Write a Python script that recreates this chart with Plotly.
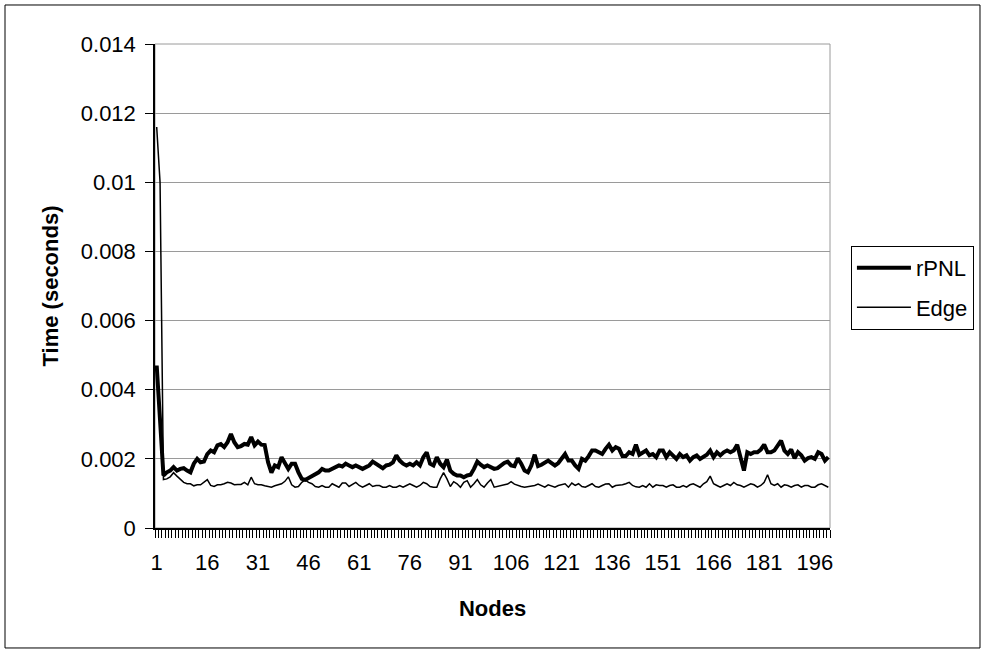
import plotly.graph_objects as go

nodes = list(range(1, 201))

rpnl = [
    0.0047, 0.0033, 0.00152, 0.00161, 0.00166, 0.00176, 0.00166, 0.00171, 0.00173, 0.00166,
    0.00161, 0.00186, 0.00200, 0.00190, 0.00192, 0.00214, 0.00224, 0.00219, 0.00239, 0.00243,
    0.00234, 0.00248, 0.00272, 0.00248, 0.00234, 0.00237, 0.00243, 0.00241, 0.00263, 0.00239,
    0.00250, 0.00241, 0.00240, 0.00190, 0.00160, 0.00181, 0.00176, 0.00205, 0.00190, 0.00171,
    0.00186, 0.00186, 0.00161, 0.00142, 0.00139, 0.00144, 0.00150, 0.00155, 0.00161, 0.00171,
    0.00166, 0.00166, 0.00171, 0.00173, 0.00181, 0.00178, 0.00186, 0.00181, 0.00176, 0.00181,
    0.00176, 0.00171, 0.00176, 0.00181, 0.00192, 0.00186, 0.00181, 0.00173, 0.00181, 0.00183,
    0.00190, 0.00210, 0.00195, 0.00186, 0.00181, 0.00186, 0.00181, 0.00190, 0.00181, 0.00205,
    0.00219, 0.00186, 0.00181, 0.00205, 0.00186, 0.00176, 0.00198, 0.00166, 0.00157, 0.00152,
    0.00152, 0.00147, 0.00152, 0.00154, 0.00171, 0.00192, 0.00183, 0.00176, 0.00181, 0.00176,
    0.00171, 0.00173, 0.00181, 0.00188, 0.00192, 0.00181, 0.00179, 0.00202, 0.00186, 0.00166,
    0.00161, 0.00181, 0.00212, 0.00179, 0.00183, 0.00190, 0.00195, 0.00188, 0.00181, 0.00188,
    0.00200, 0.00214, 0.00195, 0.00195, 0.00181, 0.00171, 0.00200, 0.00195, 0.00208, 0.00224,
    0.00224, 0.00219, 0.00214, 0.00229, 0.00241, 0.00224, 0.00234, 0.00229, 0.00208, 0.00208,
    0.00219, 0.00214, 0.00241, 0.00212, 0.00219, 0.00224, 0.00210, 0.00214, 0.00205, 0.00224,
    0.00224, 0.00205, 0.00219, 0.00210, 0.00200, 0.00214, 0.00205, 0.00210, 0.00195, 0.00205,
    0.00210, 0.00200, 0.00205, 0.00212, 0.00224, 0.00205, 0.00219, 0.00210, 0.00219, 0.00224,
    0.00219, 0.00224, 0.00241, 0.00205, 0.00166, 0.00219, 0.00214, 0.00219, 0.00219, 0.00227,
    0.00241, 0.00219, 0.00219, 0.00224, 0.00239, 0.00253, 0.00224, 0.00214, 0.00227, 0.00202,
    0.00219, 0.00210, 0.00195, 0.00202, 0.00205, 0.00200, 0.00219, 0.00214, 0.00195, 0.00205,
]

edge = [
    0.0116, 0.0100, 0.00140, 0.00142, 0.00148, 0.00160, 0.00150, 0.00140, 0.00132, 0.00128,
    0.00128, 0.00122, 0.00125, 0.00125, 0.00132, 0.00140, 0.00123, 0.00120, 0.00125, 0.00125,
    0.00128, 0.00132, 0.00130, 0.00125, 0.00126, 0.00126, 0.00132, 0.00125, 0.00147, 0.00128,
    0.00125, 0.00125, 0.00122, 0.00120, 0.00118, 0.00122, 0.00125, 0.00128, 0.00135, 0.00148,
    0.00125, 0.00118, 0.00120, 0.00132, 0.00139, 0.00132, 0.00128, 0.00120, 0.00118, 0.00123,
    0.00118, 0.00118, 0.00128, 0.00123, 0.00118, 0.00130, 0.00130, 0.00120, 0.00125, 0.00132,
    0.00123, 0.00118, 0.00123, 0.00128, 0.00120, 0.00123, 0.00123, 0.00118, 0.00118, 0.00123,
    0.00118, 0.00118, 0.00123, 0.00118, 0.00123, 0.00128, 0.00123, 0.00118, 0.00123, 0.00132,
    0.00128, 0.00120, 0.00118, 0.00118, 0.00142, 0.00160, 0.00142, 0.00120, 0.00134, 0.00128,
    0.00118, 0.00132, 0.00137, 0.00118, 0.00128, 0.00140, 0.00125, 0.00118, 0.00130, 0.00140,
    0.00118, 0.00121, 0.00123, 0.00125, 0.00127, 0.00134, 0.00127, 0.00123, 0.00120, 0.00118,
    0.00119, 0.00120, 0.00123, 0.00127, 0.00123, 0.00118, 0.00125, 0.00121, 0.00118, 0.00123,
    0.00125, 0.00128, 0.00118, 0.00130, 0.00123, 0.00128, 0.00120, 0.00118, 0.00123, 0.00128,
    0.00120, 0.00118, 0.00123, 0.00127, 0.00128, 0.00118, 0.00123, 0.00123, 0.00125, 0.00128,
    0.00132, 0.00123, 0.00119, 0.00118, 0.00123, 0.00118, 0.00128, 0.00118, 0.00125, 0.00123,
    0.00123, 0.00118, 0.00123, 0.00125, 0.00118, 0.00118, 0.00123, 0.00118, 0.00125, 0.00128,
    0.00123, 0.00118, 0.00128, 0.00134, 0.00150, 0.00128, 0.00123, 0.00118, 0.00123, 0.00128,
    0.00123, 0.00132, 0.00125, 0.00123, 0.00118, 0.00123, 0.00128, 0.00125, 0.00118, 0.00123,
    0.00132, 0.00154, 0.00128, 0.00123, 0.00128, 0.00118, 0.00125, 0.00123, 0.00118, 0.00123,
    0.00125, 0.00118, 0.00123, 0.00123, 0.00118, 0.00118, 0.00125, 0.00128, 0.00123, 0.00118,
]

x_tick_vals = list(range(1, 201, 15))
x_tick_text = [str(v) for v in x_tick_vals]
x_minor_ticks = [i + 0.5 for i in range(0, 201)]
y_tick_vals = [0, 0.002, 0.004, 0.006, 0.008, 0.010, 0.012, 0.014]
y_tick_text = ["0", "0.002", "0.004", "0.006", "0.008", "0.01", "0.012", "0.014"]

FONT = "Liberation Sans, Arial, sans-serif"

fig = go.Figure()
fig.add_trace(go.Scatter(x=nodes, y=rpnl, mode="lines", name="rPNL",
                         legendgroup="rpnl",
                         line=dict(color="black", width=4)))
fig.add_trace(go.Scatter(x=nodes, y=edge, mode="lines", name="Edge",
                         legendgroup="edge",
                         line=dict(color="black", width=1.5)))

fig.update_layout(
    width=984, height=652,
    paper_bgcolor="white", plot_bgcolor="white",
    margin=dict(l=155, r=154, t=44, b=124, autoexpand=False),
    font=dict(family=FONT, color="black", size=22),
    showlegend=True,
    legend=dict(x=1.031, y=0.583, xanchor="left", yanchor="top",
                bordercolor="black", borderwidth=1, bgcolor="white",
                font=dict(size=22, family=FONT), tracegroupgap=8,
                itemwidth=54),
    xaxis=dict(
        range=[0.5, 200.5], tickmode="array", tickvals=x_tick_vals, ticktext=x_tick_text,
        ticks="outside", ticklen=0, ticklabelstandoff=14,
        showline=True, linecolor="black", linewidth=1.5, mirror=False,
        showgrid=False, zeroline=False,
        tickfont=dict(size=22, family=FONT),
        minor=dict(tickmode="array", tickvals=x_minor_ticks, ticks="outside",
                   ticklen=8, tickwidth=1, tickcolor="black", showgrid=False),
        title=dict(text="<b>Nodes</b>", font=dict(size=22, family=FONT), standoff=26),
    ),
    yaxis=dict(
        range=[0, 0.014], tickmode="array", tickvals=y_tick_vals, ticktext=y_tick_text,
        ticks="outside", ticklen=8, tickwidth=1, tickcolor="black", ticklabelstandoff=5,
        showline=True, linecolor="black", linewidth=1.5,
        showgrid=True, gridcolor="#9a9a9a", gridwidth=1, zeroline=False,
        tickfont=dict(size=22, family=FONT),
        title=dict(text="<b>Time (seconds)</b>", font=dict(size=22, family=FONT), standoff=16),
    ),
    shapes=[
        dict(type="rect", xref="paper", yref="paper", x0=0, x1=1, y0=0, y1=1,
             line=dict(color="#9a9a9a", width=1), layer="below"),
        dict(type="rect", xref="paper", yref="paper",
             x0=-0.2222, x1=1.2222, y0=-0.2479, y1=1.0806,
             line=dict(color="black", width=1), fillcolor="rgba(0,0,0,0)", layer="below"),
    ],
)

fig.write_html("out.html", config={"displayModeBar": False},
               post_script="document.body.style.margin='0';document.body.style.padding='0';")
